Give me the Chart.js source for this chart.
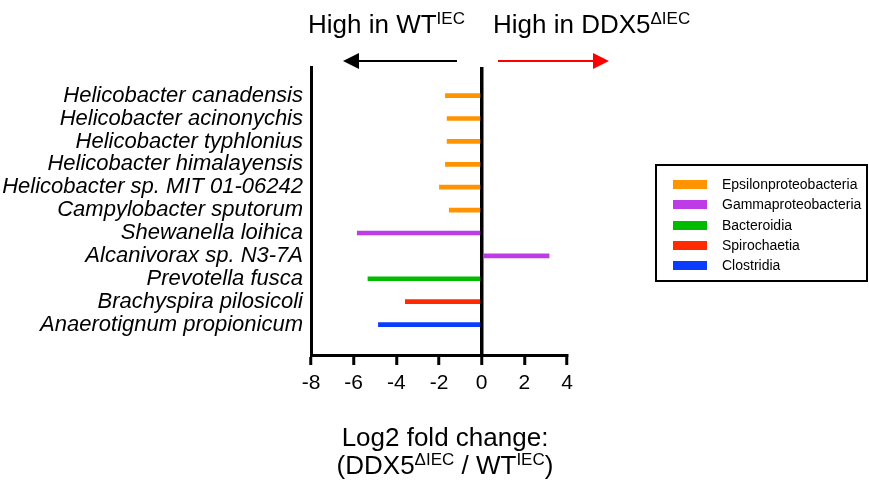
<!DOCTYPE html>
<html>
<head>
<meta charset="utf-8">
<script src="https://cdn.jsdelivr.net/npm/chart.js@4/dist/chart.umd.min.js"></script>
<style>
  body { margin: 0; background: #fff; font-family: "Liberation Sans", Arial, sans-serif; }
  #wrap { position: relative; width: 869px; height: 481px; }
  .note { position: absolute; font-size: 26px; line-height: 26px; color: #000; white-space: nowrap; }
  .note sup { font-size: 17px; vertical-align: 9px; line-height: 0; }
  #xtitle { position: absolute; left: 295px; top: 423px; width: 300px; text-align: center;
            font-size: 26px; line-height: 28px; }
  #xtitle sup { font-size: 17px; vertical-align: 9px; line-height: 0; }
  #legend { position: absolute; left: 655px; top: 164px; width: 209px; height: 114px;
            border: 2px solid #000; font-size: 14px; }
  #legend .item { position: absolute; left: 0; height: 20px; }
  #legend .sw { position: absolute; left: 16px; top: 6px; width: 34px; height: 9px; }
  #legend .lb { position: absolute; left: 65px; top: 2px; white-space: nowrap; line-height: 16px; }
  svg { position: absolute; left: 0; top: 0; }
</style>
</head>
<body>
<div id="wrap">
  <canvas id="myChart"></canvas>
  <svg width="869" height="481">
    <line x1="457" y1="61" x2="356" y2="61" stroke="#000" stroke-width="2"/>
    <polygon points="343,61 359,53 359,69" fill="#000"/>
    <line x1="498" y1="61" x2="595" y2="61" stroke="#ff0000" stroke-width="2"/>
    <polygon points="609,61 593,53 593,69" fill="#ff0000"/>
  </svg>
  <div class="note" style="left:308px; top:11px;">High in WT<sup>IEC</sup></div>
  <div class="note" style="left:493px; top:11px;">High in DDX5<sup>&Delta;IEC</sup></div>
  <div id="xtitle">Log2 fold change:<br>(DDX5<sup>&Delta;IEC</sup> / WT<sup>IEC</sup>)</div>
  <div id="legend"></div>
</div>
<script>
// datos
const especies = [
  "Helicobacter canadensis",
  "Helicobacter acinonychis",
  "Helicobacter typhlonius",
  "Helicobacter himalayensis",
  "Helicobacter sp. MIT 01-06242",
  "Campylobacter sputorum",
  "Shewanella loihica",
  "Alcanivorax sp. N3-7A",
  "Prevotella fusca",
  "Brachyspira pilosicoli",
  "Anaerotignum propionicum"
];
const log2fc = [-1.70, -1.62, -1.62, -1.70, -1.98, -1.52, -5.83, 3.16, -5.33, -3.58, -4.84];
const claseDe = [
  "Epsilonproteobacteria", "Epsilonproteobacteria", "Epsilonproteobacteria",
  "Epsilonproteobacteria", "Epsilonproteobacteria", "Epsilonproteobacteria",
  "Gammaproteobacteria", "Gammaproteobacteria",
  "Bacteroidia", "Spirochaetia", "Clostridia"
];
const clases = ["Epsilonproteobacteria", "Gammaproteobacteria", "Bacteroidia", "Spirochaetia", "Clostridia"];
const colores = ["#ff9400", "#bd3ce6", "#00bb00", "#ff2a00", "#0a3cff"];
const xTicks = [-8, -6, -4, -2, 0, 2, 4];

Chart.defaults.color = "#000";
Chart.defaults.font.family = '"Liberation Sans", Arial, sans-serif';

// un dataset por clase
const datasets = clases.map((c, k) => ({
  label: c,
  backgroundColor: colores[k],
  data: especies.map((s, i) => ({ x: log2fc[i], y: i })).filter((d) => claseDe[d.y] === c),
  barThickness: 4,
  grouped: false
}));

// leyenda en html
const legend = document.getElementById("legend");
clases.forEach((c, k) => {
  const item = document.createElement("div");
  item.className = "item";
  item.style.top = (8 + k * 20.25) + "px";
  item.innerHTML = '<div class="sw" style="background:' + colores[k] + '"></div><div class="lb">' + c + '</div>';
  legend.appendChild(item);
});

let miCanvas = document.getElementById("myChart").getContext("2d");

var chart = new Chart(miCanvas, {
  type: "bar",
  data: { datasets: datasets },
  options: {
    indexAxis: "y",
    responsive: true,
    maintainAspectRatio: false,
    animation: false,
    layout: { padding: { top: 67, right: 302, left: 0, bottom: 0 } },
    plugins: { legend: { display: false }, tooltip: { enabled: false } },
    scales: {
      x: {
        type: "linear",
        min: -8,
        max: 4,
        afterBuildTicks: (scale) => { scale.ticks = xTicks.map((v) => ({ value: v })); },
        afterFit: (scale) => { scale.height = 126; },
        ticks: { font: { size: 21 }, padding: 6, color: "#000" },
        grid: {
          drawOnChartArea: true,
          color: (ctx) => (ctx.tick && ctx.tick.value === 0 ? "#000" : "rgba(0,0,0,0)"),
          lineWidth: 3.5,
          tickColor: "#000",
          tickWidth: 3,
          tickLength: 10
        },
        border: { display: true, color: "#000", width: 3 }
      },
      y: {
        type: "linear",
        reverse: true,
        offset: false,
        min: -1.25,
        max: 11.33,
        afterBuildTicks: (scale) => { scale.ticks = especies.map((s, i) => ({ value: i })); },
        afterFit: (scale) => { scale.width = 311; },
        ticks: {
          autoSkip: false,
          font: { size: 22, style: "italic" },
          padding: 8,
          color: "#000",
          callback: (v) => especies[v]
        },
        grid: { display: false, drawTicks: false, offset: false },
        border: { display: true, color: "#000", width: 3 }
      }
    }
  }
});
</script>
</body>
</html>
